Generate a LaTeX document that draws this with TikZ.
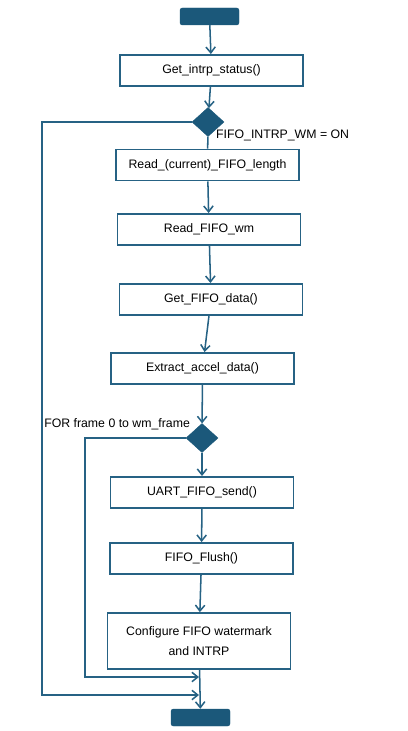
\documentclass[tikz,border=0pt]{standalone}
\usepackage{fontspec}
\setmainfont{Liberation Sans}
\usetikzlibrary{shapes.geometric,arrows.meta}

\definecolor{flowline}{RGB}{38,98,132}
\definecolor{flowfill}{RGB}{27,88,122}

\begin{document}
\begin{tikzpicture}[x=0.3mm, y=-0.3mm,
        every node/.style={font=\fontsize{10.5}{12.5}\selectfont},
        stepbox/.style={draw=flowline, line width=1.4pt, minimum width=54.9mm, minimum height=9.4mm, inner sep=0pt, align=center},
        termbox/.style={fill=flowfill, draw=flowfill, rounded corners=2pt, minimum width=17.7mm, minimum height=5.1mm, inner sep=0pt},
        decide/.style={diamond, fill=flowfill, draw=flowfill, minimum width=9.6mm, minimum height=8.7mm, inner sep=0pt},
        flow/.style={draw=flowline, line width=1.3pt},
        flowarrow/.style={flow, -{Straight Barb[length=5pt, width=8pt, line width=1.3pt]}}]
    \useasboundingbox (0,0) rectangle (407,731);

        \node[termbox] (start) at (209.5,16.5) {};
        \node[stepbox] (status) at (211.5,70.5) {Get\_intrp\_status()};
        \node[decide] (wmchk) at (208,122) {};
        \node[anchor=west] (wmlbl) at (212,135) {FIFO\_INTRP\_WM = ON};
        \node[stepbox] (rdlen) at (207.5,165) {Read\_(current)\_FIFO\_length};
        \node[stepbox] (rdwm) at (209,229.5) {Read\_FIFO\_wm};
        \node[stepbox] (getdata) at (211,299.5) {Get\_FIFO\_data()};
        \node[stepbox] (extract) at (202.5,368.5) {Extract\_accel\_data()};
        \node[decide] (framechk) at (202,438) {};
        \node[anchor=east] (framelbl) at (194,424) {FOR frame 0 to wm\_frame};
        \node[stepbox] (uart) at (202,492.5) {UART\_FIFO\_send()};
        \node[stepbox] (flush) at (201.5,558.5) {FIFO\_Flush()};
        \node[stepbox, minimum height=16.8mm, align=center] (config) at (199,641) {Configure FIFO watermark\\[4pt]and INTRP};
        \node[termbox] (stop) at (200.5,717.5) {};

        \coordinate (outerin) at (199,695);
        \coordinate (innerin) at (199,677);

        \draw[flowarrow] (start) -- (status);
        \draw[flowarrow] (status) -- (wmchk);
        \draw[flow] (wmchk) -- (rdlen);
        \draw[flowarrow] (rdlen) -- (rdwm);
        \draw[flowarrow] (rdwm) -- (getdata);
        \draw[flowarrow] (getdata) -- (extract);
        \draw[flowarrow] (extract) -- (framechk);
        \draw[flowarrow] (framechk) -- (uart);
        \draw[flowarrow] (uart) -- (flush);
        \draw[flowarrow] (flush) -- (config);
        \draw[flowarrow] (config) -- (stop);
        \draw[flowarrow] (wmchk.west) -| (42,695) -- (outerin);
        \draw[flowarrow] (framechk.west) -| (85,677) -- (innerin);
    \end{tikzpicture}
\end{document}
